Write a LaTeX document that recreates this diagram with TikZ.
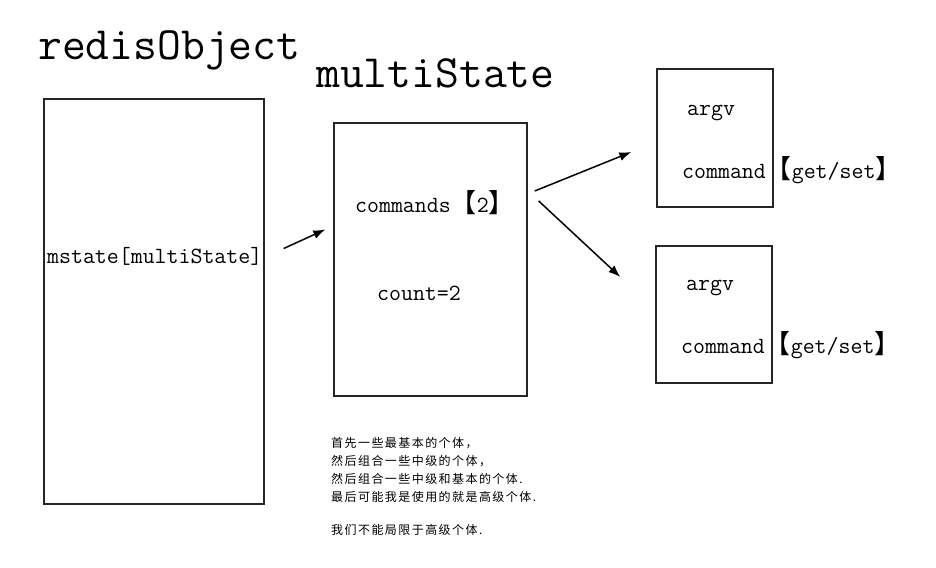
\documentclass[tikz,border=0pt]{standalone}
\usepackage{fontspec}
\usepackage{tikz}
\usetikzlibrary{arrows.meta}
\newfontfamily\cjk{Noto Sans CJK SC}
\newfontfamily\cjknote[LetterSpace=12]{Noto Sans CJK SC}
\newcommand{\openbr}{{\cjk\fontsize{26}{26}\selectfont【}}
\newcommand{\closebr}{{\cjk\fontsize{26}{26}\selectfont】}}

\begin{document}
\begin{tikzpicture}[x=1pt,y=-1pt,
    box/.style={draw=black!85,line width=1.4pt,inner sep=0pt},
    txt/.style={anchor=base west,inner sep=0pt,font=\ttfamily\fontsize{23.2}{26}\selectfont},
    title/.style={anchor=base west,inner sep=0pt,font=\ttfamily\fontsize{46.3}{50}\selectfont},
    arr/.style={-{Latex[length=12pt,width=9pt]},line width=1.5pt}]
    \useasboundingbox (0,0) rectangle (936,567);
    % the boxes
    \node[box,minimum width=220pt,minimum height=405pt] (obj) at (154,301.5) {};
    \node[box,minimum width=193pt,minimum height=273pt] (ms) at (430.5,259.5) {};
    \node[box,minimum width=116pt,minimum height=138pt] (cmdA) at (715,138) {};
    \node[box,minimum width=116pt,minimum height=137pt] (cmdB) at (714,314.5) {};
    % titles
    \node[title] (objtitle) at (38,60) {redisObject};
    \node[title] (mstitle) at (316,88) {multiState};
    % texts in the boxes
    \node[txt] (mstate) at (47,263) {mstate[multiState]};
    \node[txt] (cmds) at (355,212) {commands\openbr2\closebr};
    \node[txt] (count) at (377,300) {count=2};
    \node[txt] (argvA) at (687,115) {argv};
    \node[txt] (cmdtextA) at (682,178) {command\openbr get/set\closebr};
    \node[txt] (argvB) at (686,290) {argv};
    \node[txt] (cmdtextB) at (681,353) {command\openbr get/set\closebr};
    % arrows
    \draw[arr] ([shift={(19,-53)}]obj.east) -- ([shift={(-8,-30)}]ms.west);
    \draw[arr] ([shift={(7,-68.5)}]ms.east) -- ([shift={(-25,14)}]cmdA.west);
    \draw[arr] ([shift={(11,-58.5)}]ms.east) -- ([shift={(-35,-37.5)}]cmdB.west);
    % note
    \node[anchor=north west,inner sep=0pt,align=left,
      font=\cjknote\fontsize{12}{18}\selectfont] (note) at (331,437)
      {首先一些最基本的个体，\\
       然后组合一些中级的个体，\\
       然后组合一些中级和基本的个体.\\
       最后可能我是使用的就是高级个体.\\[15pt]
       我们不能局限于高级个体.};
\end{tikzpicture}
\end{document}
